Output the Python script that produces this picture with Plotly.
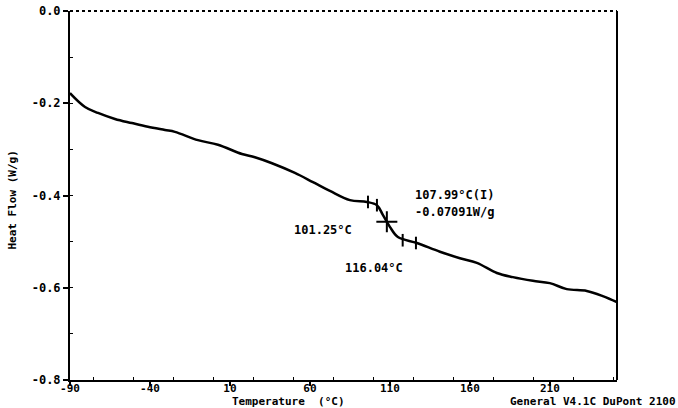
import plotly.graph_objects as go

# Data (Temperature °C, Heat Flow W/g)
temperature = [-90, -80.6, -72.5, -61.9, -51.3, -41.3, -30.6, -24.4, -10, 2.5, 17.5, 25.6,
               36.3, 50.6, 61.9, 72.5, 85, 95.6, 101.9, 105.6, 110, 115, 126.9, 141.3,
               153.8, 164.4, 176.9, 186.9, 199.4, 210, 220.6, 233.1, 243.1, 251.9]
heat_flow = [-0.178, -0.208, -0.221, -0.234, -0.243, -0.251, -0.258, -0.262, -0.280, -0.290,
             -0.310, -0.317, -0.330, -0.351, -0.371, -0.390, -0.410, -0.414, -0.421, -0.442,
             -0.468, -0.490, -0.503, -0.522, -0.536, -0.546, -0.568, -0.577, -0.585, -0.590,
             -0.603, -0.607, -0.618, -0.631]

tick_marks_t = [96.3, 101.9, 118.0, 126.3]
tick_marks_hf = [-0.414, -0.421, -0.497, -0.503]
mid_t = [108.1]
mid_hf = [-0.457]

x_ticks = [-90, -40, 10, 60, 110, 160, 210]
y_ticks = [0.0, -0.2, -0.4, -0.6, -0.8]

FONT = "DejaVu Sans Mono"
fsize = 12
bsize = 11

fig = go.Figure()
fig.add_trace(go.Scatter(x=temperature, y=heat_flow, mode="lines",
                         line=dict(color="black", width=2.5), line_shape="spline",
                         hoverinfo="skip", showlegend=False))
fig.add_trace(go.Scatter(x=tick_marks_t, y=tick_marks_hf, mode="markers",
                         marker=dict(symbol="line-ns", size=9, line=dict(color="black", width=2)),
                         showlegend=False))
fig.add_trace(go.Scatter(x=mid_t, y=mid_hf, mode="markers",
                         marker=dict(symbol="cross-thin", size=15, line=dict(color="black", width=2)),
                         showlegend=False))

ann_font = dict(family=FONT, size=fsize, color="black")
bot_font = dict(family=FONT, size=bsize, color="black")
fig.add_annotation(x=124.4, y=-0.399, text="<b>107.99°C(I)</b>", showarrow=False,
                   xanchor="left", yanchor="middle", font=ann_font)
fig.add_annotation(x=124.4, y=-0.436, text="<b>-0.07091W/g</b>", showarrow=False,
                   xanchor="left", yanchor="middle", font=ann_font)
fig.add_annotation(x=68.1, y=-0.475, text="<b>101.25°C</b>", showarrow=False,
                   xanchor="center", yanchor="middle", font=ann_font)
fig.add_annotation(x=100, y=-0.557, text="<b>116.04°C</b>", showarrow=False,
                   xanchor="center", yanchor="middle", font=ann_font)
# axis titles and footer
fig.add_annotation(x=0.40, y=0, xref="paper", yref="paper", yshift=-21,
                   text="<b>Temperature  (°C)</b>", showarrow=False,
                   xanchor="center", yanchor="middle", font=bot_font)
fig.add_annotation(x=1.0, y=0, xref="paper", yref="paper", xshift=61, yshift=-21,
                   text="<b>General V4.1C DuPont 2100</b>", showarrow=False,
                   xanchor="right", yanchor="middle", font=bot_font)
fig.add_annotation(x=0, y=0.5, xref="paper", yref="paper", xshift=-58, yshift=-5,
                   text="<b>Heat Flow (W/g)</b>", showarrow=False, textangle=-90,
                   xanchor="center", yanchor="middle",
                   font=dict(family=FONT, size=11, color="black"))

# plot frame: dotted top (faded), solid right
fig.add_shape(type="line", xref="paper", yref="paper", x0=0, x1=1, y0=1, y1=1,
              line=dict(color="black", width=2, dash="dot"))
fig.add_shape(type="line", xref="paper", yref="paper", x0=1, x1=1, y0=0, y1=1,
              line=dict(color="black", width=2))

fig.update_xaxes(range=[-90, 252], tickvals=x_ticks, ticktext=[f"<b>{v}</b>" for v in x_ticks],
                 showgrid=False, zeroline=False, showline=True, linecolor="black", linewidth=2,
                 ticks="outside", ticklen=4, tickwidth=1.5, tickcolor="black",
                 minor=dict(ticks="inside", ticklen=3, tickwidth=1, tickcolor="black", dtick=25),
                 tickfont=dict(family=FONT, size=bsize, color="black"),
                 ticklabelstandoff=-7, automargin=False)
fig.update_yaxes(range=[-0.8, 0], tickvals=y_ticks, ticktext=[f"<b>{v:.1f}</b>" for v in y_ticks],
                 showgrid=False, zeroline=False, showline=True, linecolor="black", linewidth=2,
                 ticks="outside", ticklen=5, tickwidth=1.5, tickcolor="black",
                 minor=dict(ticks="inside", ticklen=3, tickwidth=1, tickcolor="black", dtick=0.1),
                 tickfont=dict(family=FONT, size=fsize, color="black"),
                 automargin=False)

fig.update_layout(width=678, height=408, margin=dict(l=70, r=61, t=11, b=28),
                  plot_bgcolor="white", paper_bgcolor="white", showlegend=False)

fig.write_html("out.html")
